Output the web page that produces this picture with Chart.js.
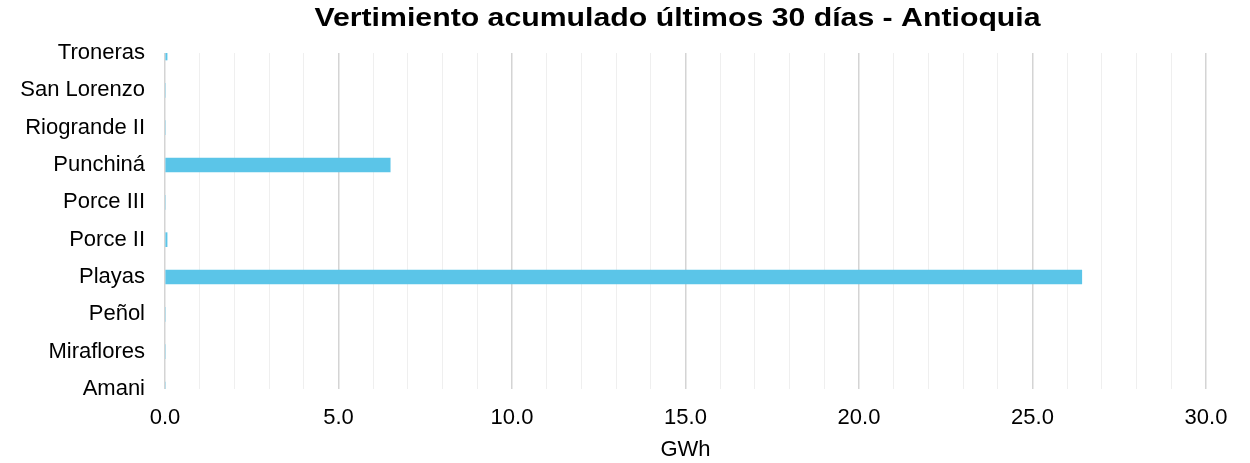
<!DOCTYPE html>
<html>
<head>
<meta charset="utf-8">
<title>Vertimiento acumulado</title>
<script src="https://cdn.jsdelivr.net/npm/chart.js@4.4.1/dist/chart.umd.min.js"></script>
<style>
  html, body { margin: 0; padding: 0; background: #fff; }
  #wrap { width: 1250px; height: 463px; }
</style>
</head>
<body>
<div id="wrap"><canvas id="vertChart" width="1250" height="463"></canvas></div>
<script>
const chartTitle = "Vertimiento acumulado últimos 30 días - Antioquia";
const plantas = ["Troneras", "San Lorenzo", "Riogrande II", "Punchiná", "Porce III",
                 "Porce II", "Playas", "Peñol", "Miraflores", "Amani"];
const vertimientoGWh = [0.06, 0, 0, 6.49, 0, 0.06, 26.42, 0, 0, 0];
const axisUnit = "GWh";
const xMin = 0;
const xMax = 30;

const FONT = "'Liberation Sans', Arial, sans-serif";

// title drawn over the plot area, slightly widened like the exported original
const plotTitle = {
    id: "plotTitle",
    afterDraw(chart) {
        const { ctx, chartArea } = chart;
        const cx = (chartArea.left + chartArea.right) / 2 - 8;
        ctx.save();
        ctx.font = "bold 25px " + FONT;
        ctx.fillStyle = "#000";
        ctx.textAlign = "center";
        ctx.textBaseline = "middle";
        ctx.translate(cx, 19);
        ctx.scale(1.21, 1);
        ctx.fillText(chartTitle, 0, 0);
        ctx.restore();
    }
};

new Chart(document.getElementById("vertChart"), {
    type: "bar",
    data: {
        labels: plantas,
        datasets: [{
            label: axisUnit,
            data: vertimientoGWh,
            backgroundColor: "#5bc5e8",
            barThickness: 14
        }]
    },
    options: {
        indexAxis: "y",
        responsive: false,
        animation: false,
        layout: { padding: { top: 53, right: 44, left: 0, bottom: 0 } },
        plugins: {
            legend: { display: false },
            tooltip: { enabled: false }
        },
        scales: {
            x: {
                min: xMin,
                max: xMax,
                border: { display: false },
                grid: {
                    drawTicks: false,
                    color: (c) => (c.tick && c.tick.value % 5 === 0) ? "#d4d4d4" : "#efefef",
                    lineWidth: (c) => (c.tick && c.tick.value % 5 === 0) ? 1.5 : 1
                },
                ticks: {
                    stepSize: 1,
                    autoSkip: false,
                    maxRotation: 0,
                    padding: 16,
                    color: "#000",
                    font: { family: FONT, size: 22 },
                    callback: (v) => v % 5 === 0 ? v.toFixed(1) : ""
                },
                title: {
                    display: true,
                    text: axisUnit,
                    color: "#000",
                    font: { family: FONT, size: 22 },
                    padding: { top: 0, bottom: 0 }
                },
                afterFit(scale) { scale.height = 74; }
            },
            y: {
                offset: false,
                border: { display: false },
                grid: { display: false },
                ticks: {
                    color: "#000",
                    padding: 12,
                    font: { family: FONT, size: 22 }
                },
                afterFit(scale) { scale.width = 165; }
            }
        }
    },
    plugins: [plotTitle]
});
</script>
</body>
</html>
